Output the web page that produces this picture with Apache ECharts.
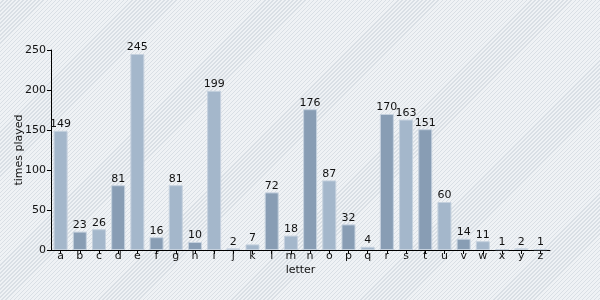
<!DOCTYPE html>
<html>
<head>
<meta charset="utf-8">
<script src="https://cdn.jsdelivr.net/npm/echarts@6/dist/echarts.min.js"></script>
<style>
html,body{margin:0;padding:0;}
#c{width:600px;height:300px;background-color:#eff2f5;
background-image:repeating-linear-gradient(135deg, rgba(0,0,0,0) 0px, rgba(0,0,0,0) 1.9px, #d9dfe5 1.9px, #d9dfe5 2.85px);}
</style>
</head>
<body>
<div id="c"></div>
<script>
var categories = ['a','b','c','d','e','f','g','h','i','j','k','l','m','n','o','p','q','r','s','t','u','v','w','x','y','z'];
var timesPlayed = [149,23,26,81,245,16,81,10,199,2,7,72,18,176,87,32,4,170,163,151,60,14,11,1,2,1];
var yTicks = [0,50,100,150,200,250];
var barColors = ['#a4b7cb','#889db4'];

var chart = echarts.init(document.getElementById('c'), null, {renderer:'canvas'});
chart.setOption({
  backgroundColor: 'transparent',
  animation: false,
  textStyle: {fontFamily: 'DejaVu Sans', color: '#111'},
  grid: {left: 51, right: 50, top: 50, bottom: 50, containLabel: false, outerBoundsMode: 'none'},
  xAxis: {
    type: 'category',
    data: categories,
    name: 'letter',
    nameLocation: 'middle',
    nameGap: 15,
    nameMoveOverlap: false,
    nameTextStyle: {fontSize: 11, color: '#111'},
    axisLine: {lineStyle: {color: '#000', width: 1}},
    axisTick: {show: true, length: 4, alignWithLabel: true, lineStyle: {color: '#000'}},
    axisLabel: {fontSize: 11, color: '#111', margin: 1, interval: 0}
  },
  yAxis: {
    type: 'value',
    min: yTicks[0],
    max: yTicks[yTicks.length - 1],
    interval: 50,
    name: 'times played',
    nameLocation: 'middle',
    nameGap: 26,
    nameMoveOverlap: false,
    nameTextStyle: {fontSize: 11, color: '#111'},
    axisLine: {show: true, lineStyle: {color: '#000', width: 1}},
    axisTick: {show: true, length: 4, lineStyle: {color: '#000'}},
    axisLabel: {fontSize: 11, color: '#111', margin: 5},
    splitLine: {show: false}
  },
  series: [{
    type: 'bar',
    data: timesPlayed,
    barWidth: 14,
    itemStyle: {
      color: function(p){ return barColors[p.dataIndex % 2]; },
      borderColor: '#c5d1de',
      borderWidth: 1
    },
    label: {show: true, position: 'top', distance: 1, fontSize: 11, color: '#111'}
  }]
});
</script>
</body>
</html>
